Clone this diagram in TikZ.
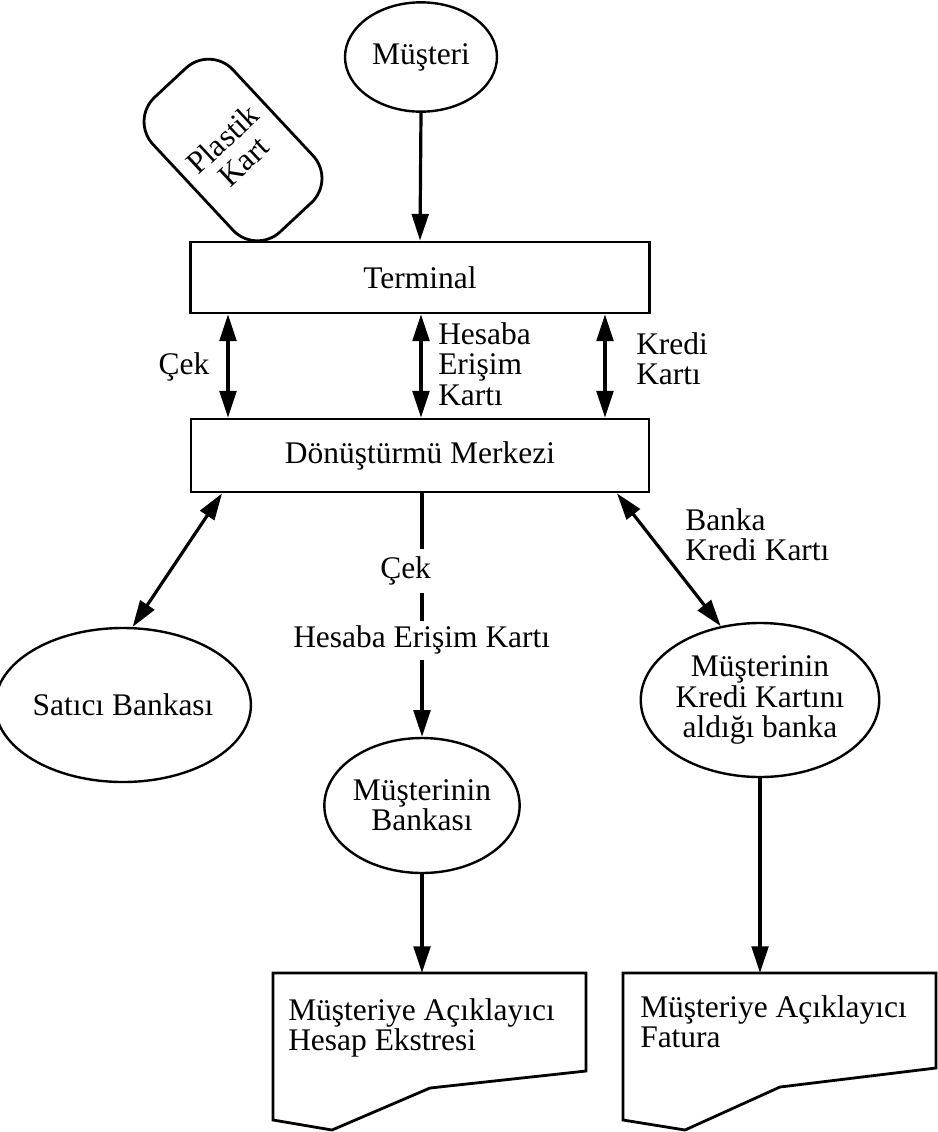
\documentclass[tikz,border=0pt]{standalone}
\usepackage{fontspec}
\setmainfont{Liberation Serif}
\usetikzlibrary{shapes.geometric,arrows.meta}
\begin{document}
\begin{tikzpicture}[x=0.75pt,y=-0.75pt,
  every node/.style={font=\fontsize{23.6}{22.8}\selectfont},
  box/.style={draw,line width=2.1pt,inner sep=0},
  oval/.style={draw,ellipse,line width=1.8pt,inner sep=0,align=center},
  lbl/.style={align=left,inner sep=0},
  gaplbl/.style={fill=white,inner xsep=0,text height=16pt,text depth=6pt},
  tipA/.style={line width=2.4pt,-{Triangle[length=20pt,width=12.5pt]}},
  tipB/.style={line width=2.4pt,{Triangle[length=20pt,width=12.5pt]}-{Triangle[length=20pt,width=12.5pt]}},
  docline/.style={line width=2.1pt,line join=miter}]
\useasboundingbox (0,0) rectangle (938,1132);

% nodes
\node[oval,minimum width=114pt,minimum height=82pt] (mus) at (421,57) {Müşteri};
\node[draw,rounded corners=25pt,line width=2.1pt,minimum width=82pt,minimum height=138pt,
      rotate=43,align=center,inner sep=0] (pk) at (233,150) {Plastik\\Kart};
\node[box,minimum width=344.25pt,minimum height=53.25pt] (term) at (420,277.5) {Terminal};
\node[box,minimum width=343.5pt,minimum height=54.75pt] (merk) at (420,455.5) {Dönüştürmü Merkezi};
\node[oval,minimum width=165pt,minimum height=115.5pt] (sat) at (123,705) {Satıcı Bankası};
\node[oval,minimum width=142.5pt,minimum height=101.25pt] (mb) at (422,805.5) {Müşterinin\\Bankası};
\node[oval,minimum width=161.25pt,minimum height=115.5pt] (kb) at (760,700) {Müşterinin\\Kredi Kartını\\aldığı banka};

% helper x positions
\coordinate (xa) at (228,0);
\coordinate (xb) at (421,0);
\coordinate (xc) at (605,0);
\coordinate (xl) at (222,0);
\coordinate (xr) at (617,0);
\coordinate (d1) at (422,973);
\coordinate (d2) at (760,973);

% labels
\node[lbl] (lcek) at (184,367) {Çek};
\node[lbl,anchor=west] (lhes) at (438,364) {Hesaba\\Erişim\\Kartı};
\node[lbl,anchor=west] (lkre) at (636,359) {Kredi\\Kartı};
\node[lbl,anchor=west] (lbk) at (685,535) {Banka\\Kredi Kartı};

% connectors
\draw[tipA] (mus.south) -- (term.north);
\draw[tipB] (term.south -| xa) -- (merk.north -| xa);
\draw[tipB] (term.south -| xb) -- (merk.north -| xb);
\draw[tipB] (term.south -| xc) -- (merk.north -| xc);
\draw[tipB] (merk.south -| xl) -- (sat.83);
\draw[tipB] (merk.south -| xr) -- (kb.118);
\draw[tipA] (merk.south -| mb.north) -- (mb.north);
\node[gaplbl,inner ysep=5.5pt,anchor=base west] (dcek) at (380,578) {Çek};
\node[gaplbl,inner ysep=3.5pt,anchor=base west] (dhes) at (293,647) {Hesaba Erişim Kartı};
\draw[tipA] (mb.south) -- (d1);
\draw[tipA] (kb.south) -- (d2);

% documents
\draw[docline] (d1) -- (586,973) -- (586,1071) -- (430,1088) -- (332,1130) -- (273,1120) -- (273,973) -- cycle;
\node[lbl,anchor=west] (t1) at (288,1028) {Müşteriye Açıklayıcı\\Hesap Ekstresi};
\draw[docline] (d2) -- (936,973) -- (936,1068) -- (780,1087) -- (685,1130) -- (623,1120) -- (623,973) -- cycle;
\node[lbl,anchor=west] (t2) at (640,1022) {Müşteriye Açıklayıcı\\Fatura};
\end{tikzpicture}
\end{document}
